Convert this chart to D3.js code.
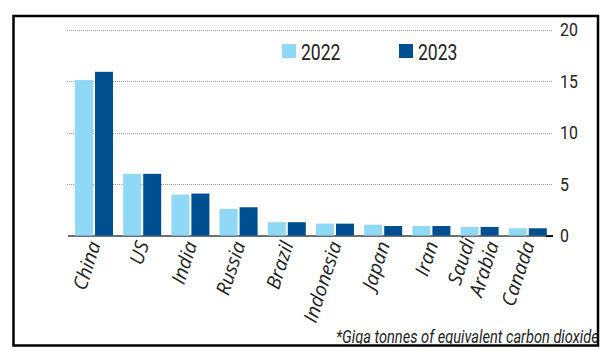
<!DOCTYPE html>
<html>
<head>
<meta charset="utf-8">
<script src="https://cdn.jsdelivr.net/npm/d3@7"></script>
<style>
  html, body { margin: 0; padding: 0; background: #fff; }
  svg { display: block; }
</style>
</head>
<body>
<script>
// ---- data ----
const categories = ["China", "US", "India", "Russia", "Brazil", "Indonesia", "Japan", "Iran", "Saudi Arabia", "Canada"];
const years = ["2022", "2023"];
const values2022 = [15.1, 6.0, 3.98, 2.6, 1.3, 1.16, 1.06, 0.93, 0.84, 0.71];
const values2023 = [15.9, 6.0, 4.08, 2.75, 1.3, 1.16, 0.93, 0.93, 0.84, 0.71];
const yTicks = [0, 5, 10, 15, 20];
const yTickLabels = ["0", "5", "10", "15", "20"];
const footnote = "*Giga tonnes of equivalent carbon dioxide";

// ---- setup ----
const W = 616, H = 355;
const colors = { "2022": "#8fd8f6", "2023": "#005091" };
const condensed = "Roboto, 'Liberation Sans', sans-serif";
const italicFont = "'Open Sans', 'Noto Sans', sans-serif";

const svg = d3.select("body").append("svg").attr("width", W).attr("height", H);

const defs = svg.append("defs");
defs.append("clipPath").attr("id", "frameClip")
  .append("rect").attr("x", 14).attr("y", 17).attr("width", 583).attr("height", 327);

const x0 = d3.scaleBand().domain(categories).range([75, 546.8]).paddingInner(0.2116).paddingOuter(0);
const x1 = d3.scaleBand().domain(years).range([0, x0.bandwidth()]).paddingInner(0.1).paddingOuter(0);
const y = d3.scaleLinear().domain([0, 20]).range([235.6, 29.6]);

const rows = categories.map((c, i) => ({ cat: c, vals: [
  { year: "2022", v: values2022[i] },
  { year: "2023", v: values2023[i] }
]}));

// gridlines (dotted)
svg.append("g").selectAll("line").data(yTicks.filter(t => t > 0)).join("line")
  .attr("x1", 67).attr("x2", 553)
  .attr("y1", d => Math.round(y(d)) + 0.5).attr("y2", d => Math.round(y(d)) + 0.5)
  .attr("stroke", "#9a9a9a").attr("stroke-width", 1).attr("stroke-dasharray", "1,1");

// baseline
svg.append("line").attr("x1", 68).attr("x2", 553)
  .attr("y1", y(0) + 0.5).attr("y2", y(0) + 0.5)
  .attr("stroke", "#707070").attr("stroke-width", 2);
svg.append("line").attr("x1", x0.range()[1] - 1).attr("x2", 553)
  .attr("y1", y(0) + 0.5).attr("y2", y(0) + 0.5)
  .attr("stroke", "#111").attr("stroke-width", 2);

// bars
const groups = svg.append("g").selectAll("g").data(rows).join("g")
  .attr("transform", d => `translate(${x0(d.cat)},0)`);
groups.selectAll("rect").data(d => d.vals).join("rect")
  .attr("x", d => x1(d.year))
  .attr("width", x1.bandwidth())
  .attr("y", d => y(d.v))
  .attr("height", d => y(0) - y(d.v))
  .attr("fill", d => colors[d.year]);

// right-side y tick labels
const tickG = svg.append("g");
yTicks.forEach((t, i) => {
  const g = tickG.append("g").attr("transform", `translate(560,${y(t)}) scale(0.88,1)`);
  g.append("text").text(yTickLabels[i])
    .attr("font-family", condensed).attr("font-size", 18)
    .attr("fill", "#222").attr("dy", "0.36em");
});

// category labels
const labG = svg.append("g");
categories.forEach(c => {
  const cx = x0(c) + x0.bandwidth() / 2 + 7;
  const lines = c.split(" ");
  const t = labG.append("text")
    .attr("transform", `translate(${cx},244) rotate(-72)`)
    .attr("text-anchor", "end")
    .attr("font-family", italicFont).attr("font-style", "italic")
    .attr("font-size", 19.5).attr("fill", "#222");
  const lh = 24;
  lines.forEach((ln, j) => {
    t.append("tspan").attr("x", j === 0 ? 0 : 4)
      .attr("y", (j - (lines.length - 1) / 2) * lh)
      .text(ln);
  });
});

// legend
const legX = [282, 399];
years.forEach((yr, i) => {
  svg.append("rect").attr("x", legX[i]).attr("y", 44).attr("width", 14).attr("height", 14)
    .attr("fill", colors[yr]);
  const g = svg.append("g").attr("transform", `translate(${legX[i] + 19},60) scale(0.78,1)`);
  g.append("text").text(yr).attr("font-family", condensed).attr("font-size", 22.5).attr("fill", "#222");
});

// footnote (clipped by frame)
const fg = svg.append("g").attr("clip-path", "url(#frameClip)");
const ft = fg.append("text").text(footnote)
  .attr("font-family", condensed).attr("font-style", "italic")
  .attr("font-size", 17.5).attr("fill", "#222");
const len = ft.node().getComputedTextLength();
const sx = 263 / len;
ft.attr("transform", `translate(336,343) scale(${sx},1)`);

// frame
svg.append("rect").attr("x", 13.5).attr("y", 16).attr("width", 584.5).attr("height", 329.5)
  .attr("fill", "none").attr("stroke", "#000").attr("stroke-width", 2.5);
</script>
</body>
</html>
